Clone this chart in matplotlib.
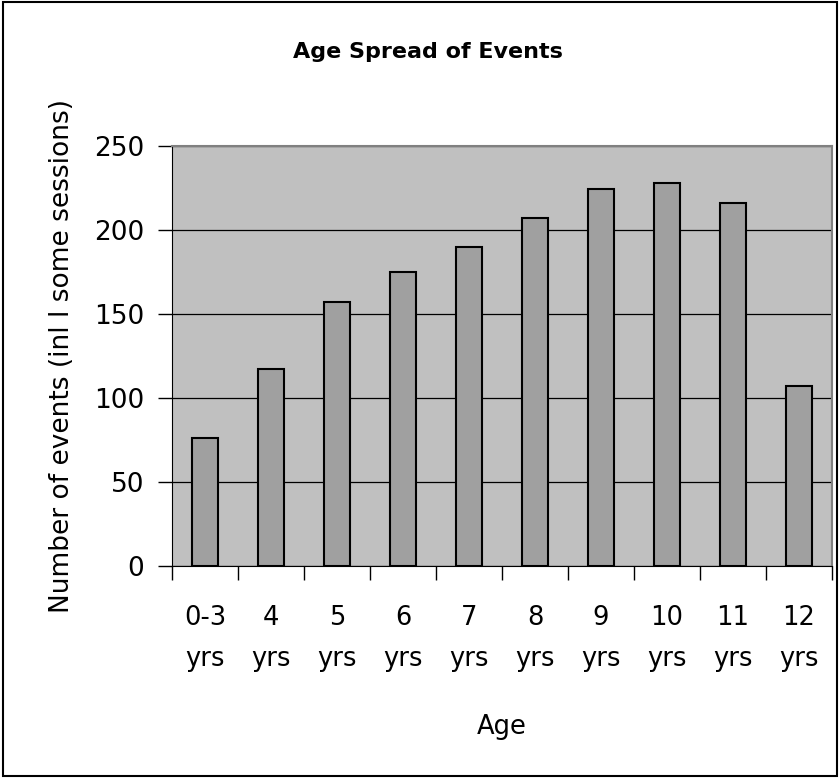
import matplotlib.pyplot as plt
import numpy as np
from matplotlib.patches import Rectangle

categories = ['0-3\nyrs', '4\nyrs', '5\nyrs', '6\nyrs', '7\nyrs',
              '8\nyrs', '9\nyrs', '10\nyrs', '11\nyrs', '12\nyrs']
events = [76, 117, 157, 175, 190, 207, 224, 228, 216, 107]
y_ticks = [0, 50, 100, 150, 200, 250]

plt.rcParams['font.family'] = ['DejaVu Sans']

fig = plt.figure(figsize=(8.4, 7.78), dpi=100)
ax = fig.add_axes([0.2048, 0.2725, 0.7857, 0.5402])

x = np.arange(len(categories))
ax.bar(x, events, width=0.4, color='#a0a0a0', edgecolor='black', linewidth=1.5, zorder=3)

ax.set_facecolor('#c0c0c0')
ax.set_xlim(-0.5, len(categories) - 0.5)
ax.set_ylim(0, 250)
ax.set_yticks(y_ticks)
ax.yaxis.grid(True, color='black', linewidth=0.9, zorder=1)
ax.set_axisbelow(True)

ax.set_xticks(x)
ax.set_xticklabels(categories, fontsize=18.5, linespacing=1.75)
ax.set_xticks(np.arange(-0.5, len(categories)), minor=True)
ax.tick_params(axis='x', which='major', length=0, pad=28)
ax.tick_params(axis='x', which='minor', length=10, width=1, direction='out')
ax.tick_params(axis='y', length=10, width=1, direction='out', labelsize=19, pad=10)

for side in ['top', 'right']:
    ax.spines[side].set_color('#808080')
    ax.spines[side].set_linewidth(1.5)
ax.spines['left'].set_color('black')
ax.spines['bottom'].set_color('black')

ax.set_xlabel('Age', fontsize=18.5, labelpad=30)
ax.set_ylabel('Number of events (inl l some sessions)', fontsize=19, labelpad=14)
fig.text(0.51, 0.933, 'Age Spread of Events', ha='center', va='center',
         fontsize=16, fontweight='bold')

fig.patches.append(Rectangle((0.003, 0.003), 0.994, 0.994, transform=fig.transFigure,
                             fill=False, edgecolor='black', linewidth=1.5))

fig.savefig('out.png', dpi=100)
